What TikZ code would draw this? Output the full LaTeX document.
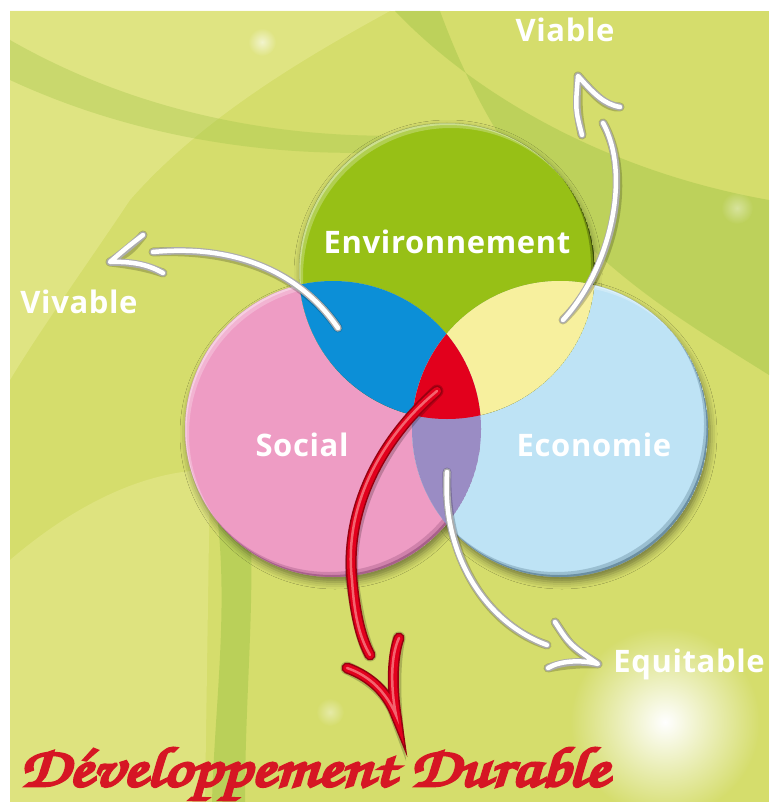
\documentclass[tikz,border=0pt]{standalone}
\usepackage{fontspec}
\setmainfont{Open Sans}[LetterSpace=2]
\usepackage{graphicx}
\usetikzlibrary{shadows.blur,fadings,calc}
\tikzfading[name=glowfade, inner color=transparent!0, outer color=transparent!100]
\definecolor{bgc}{RGB}{213,221,108}
\definecolor{bgl}{RGB}{228,231,140}
\definecolor{bgd}{RGB}{160,196,72}
\definecolor{envc}{RGB}{151,192,22}
\definecolor{socc}{RGB}{238,156,196}
\definecolor{socd}{RGB}{120,55,100}
\definecolor{ecoc}{RGB}{190,227,245}
\definecolor{ecod}{RGB}{50,85,105}
\definecolor{bluel}{RGB}{12,143,215}
\definecolor{yell}{RGB}{247,240,158}
\definecolor{purl}{RGB}{154,140,196}
\definecolor{redl}{RGB}{226,0,28}
\definecolor{redd}{RGB}{150,0,15}
\definecolor{ddred}{RGB}{214,22,36}
\tikzset{
  lbl/.style={font=\bfseries\fontsize{31}{32}\selectfont, text=white, inner sep=0pt},
  wsh/.style={line width=9pt, black, opacity=.2, line cap=round, line join=round},
  wbase/.style={line width=7.5pt, gray!65, line cap=round, line join=round},
  wtop/.style={line width=4.5pt, white, line cap=round, line join=round},
}
\newcommand{\wstroke}[1]{%
  \draw[wsh, shift={(2,3)}] #1;
  \draw[wbase] #1;
  \draw[wtop, shift={(-0.8,-0.8)}] #1;}
\newcommand{\rstroke}[1]{%
  \draw[line width=13pt, black, opacity=.2, line cap=round, shift={(2,3)}] #1;
  \draw[line width=11pt, redd, line cap=round] #1;
  \draw[line width=8pt, redl, line cap=round] #1;
  \draw[line width=2.5pt, red!35!white, opacity=.6, line cap=round, shift={(-1.5,-1)}] #1;}
\begin{document}
\begin{tikzpicture}[x=1pt,y=-1pt]
\useasboundingbox (0,0) rectangle (769,802);
\fill[white] (0,0) rectangle (769,802);
% ---------- background ----------
\begin{scope}
\clip (10,11) rectangle (769,802);
\fill[bgc] (10,11) rectangle (769,802);
\fill[bgl, opacity=.7] (10,11) -- (390,11) .. controls (300,60) and (200,120) .. (130,200) .. controls (90,260) and (40,330) .. (10,380) -- cycle;
\fill[bgd, opacity=.45] (395,11) .. controls (470,90) and (600,170) .. (769,200) -- (769,375) .. controls (650,300) and (520,230) .. (440,11) -- cycle;
\fill[bgd, opacity=.35] (10,40) .. controls (150,120) and (300,140) .. (420,135) -- (420,150) .. controls (300,160) and (150,145) .. (10,80) -- cycle;
\fill[bgl, opacity=.6] (10,560) .. controls (80,500) and (150,470) .. (210,470) -- (205,802) -- (10,802) -- cycle;
\fill[bgd, opacity=.5] (215,500) .. controls (230,600) and (215,700) .. (212,802) -- (245,802) .. controls (245,700) and (255,600) .. (250,520) -- cycle;
\fill[white, path fading=glowfade] (665,722) circle (95pt);
\fill[white, path fading=glowfade, opacity=.6] (262,42) circle (14pt);
\fill[white, path fading=glowfade, opacity=.4] (737,208) circle (16pt);
\fill[white, path fading=glowfade, opacity=.4] (330,712) circle (14pt);
\end{scope}
% ---------- circles ----------
\coordinate (E) at (447,271);
\coordinate (S) at (333,429);
\coordinate (C) at (560,429);
\path[blur shadow={shadow xshift=2pt, shadow yshift=-5pt, shadow blur radius=7pt, shadow opacity=45}] (S) circle (148pt);
\path[blur shadow={shadow xshift=2pt, shadow yshift=-5pt, shadow blur radius=7pt, shadow opacity=45}] (C) circle (148pt);
\path[blur shadow={shadow xshift=1pt, shadow yshift=-3pt, shadow blur radius=6pt, shadow opacity=35}] (E) circle (148pt);
\fill[socc] (S) circle (148pt);
\fill[ecoc] (C) circle (148pt);
\fill[envc] (E) circle (148pt);
% rims
\foreach \c/\d in {S/socd, C/ecod, E/black}{
  \begin{scope}
  \clip (\c) circle (148pt);
  \fill[white, opacity=.25, even odd rule] (\c) circle (148pt) ($(\c)+(4,5)$) circle (148pt);
  \fill[white, opacity=.35, even odd rule] (\c) circle (148pt) ($(\c)+(1.5,2)$) circle (148pt);
  \fill[\d, opacity=.25, even odd rule] (\c) circle (148pt) ($(\c)+(-4,-5)$) circle (148pt);
  \fill[\d, opacity=.45, even odd rule] (\c) circle (148pt) ($(\c)+(-1.5,-2)$) circle (148pt);
  \end{scope}
}
% lenses
\begin{scope}\clip (E) circle (148pt); \fill[bluel] (S) circle (148pt); \end{scope}
\begin{scope}\clip (E) circle (148pt); \fill[yell] (C) circle (148pt); \end{scope}
\begin{scope}\clip (S) circle (148pt); \fill[purl] (C) circle (148pt); \end{scope}
\begin{scope}\clip (E) circle (148pt); \clip (S) circle (148pt); \fill[redl] (C) circle (148pt); \end{scope}
% ---------- labels ----------
\node[lbl] (env) at (447,242) {Environnement};
\node[lbl] (soc) at (302,445) {Social};
\node[lbl] (eco) at (594,445) {Economie};
\node[lbl] (viv) at (79,302) {Vivable};
\node[lbl] (via) at (565,30) {Viable};
\node[lbl] (equ) at (689,664) {Equitable};
% ---------- arrows ----------
\coordinate (vivS) at (338,328);
\coordinate (vivE) at (153,252);
\coordinate (vivT) at (110,262);
\coordinate (vivA) at (143,235);
\coordinate (vivB) at (163,273);
\wstroke{(vivS) .. controls (300,272) and (235,245) .. (vivE)}
\wstroke{(vivA) .. controls (128,248) .. (vivT) .. controls (135,262) and (150,266) .. (vivB)}
\coordinate (viaS) at (563,320);
\coordinate (viaE) at (603,123);
\coordinate (viaT) at (578,76);
\coordinate (viaA) at (582,135);
\coordinate (viaB) at (620,107);
\wstroke{(viaS) .. controls (612,268) and (632,175) .. (viaE)}
\wstroke{(viaA) .. controls (576,110) .. (viaT) .. controls (595,95) and (605,105) .. (viaB)}
\coordinate (equS) at (447,472);
\coordinate (equE) at (547,645);
\coordinate (equT) at (598,664);
\coordinate (equA) at (555,622);
\coordinate (equB) at (548,668);
\wstroke{(equS) .. controls (442,560) and (490,625) .. (equE)}
\wstroke{(equA) .. controls (570,645) .. (equT) .. controls (580,660) and (560,662) .. (equB)}
\coordinate (dS) at (437,391);
\coordinate (dM) at (352,580);
\coordinate (dE) at (370,655);
\coordinate (dT) at (396,715);
\coordinate (dA) at (347,668);
\coordinate (dB) at (399,638);
\rstroke{(dS) .. controls (380,440) and (345,510) .. (dM) .. controls (356,620) and (362,640) .. (dE)}
\rstroke{(dA) .. controls (372,677) and (388,694) .. (dT) .. controls (392,688) and (392,657) .. (dB)}
% ---------- title ----------
\node[anchor=base west, inner sep=0pt, text=ddred] (dd) at (20,786) {\resizebox{588pt}{40pt}{\special{pdf:literal direct 2 Tr 0.5 w}\fontencoding{T1}\fontfamily{pzc}\fontseries{mb}\fontshape{it}\selectfont D\'eveloppement Durable\special{pdf:literal direct 0 Tr}}};
\end{tikzpicture}
\end{document}
